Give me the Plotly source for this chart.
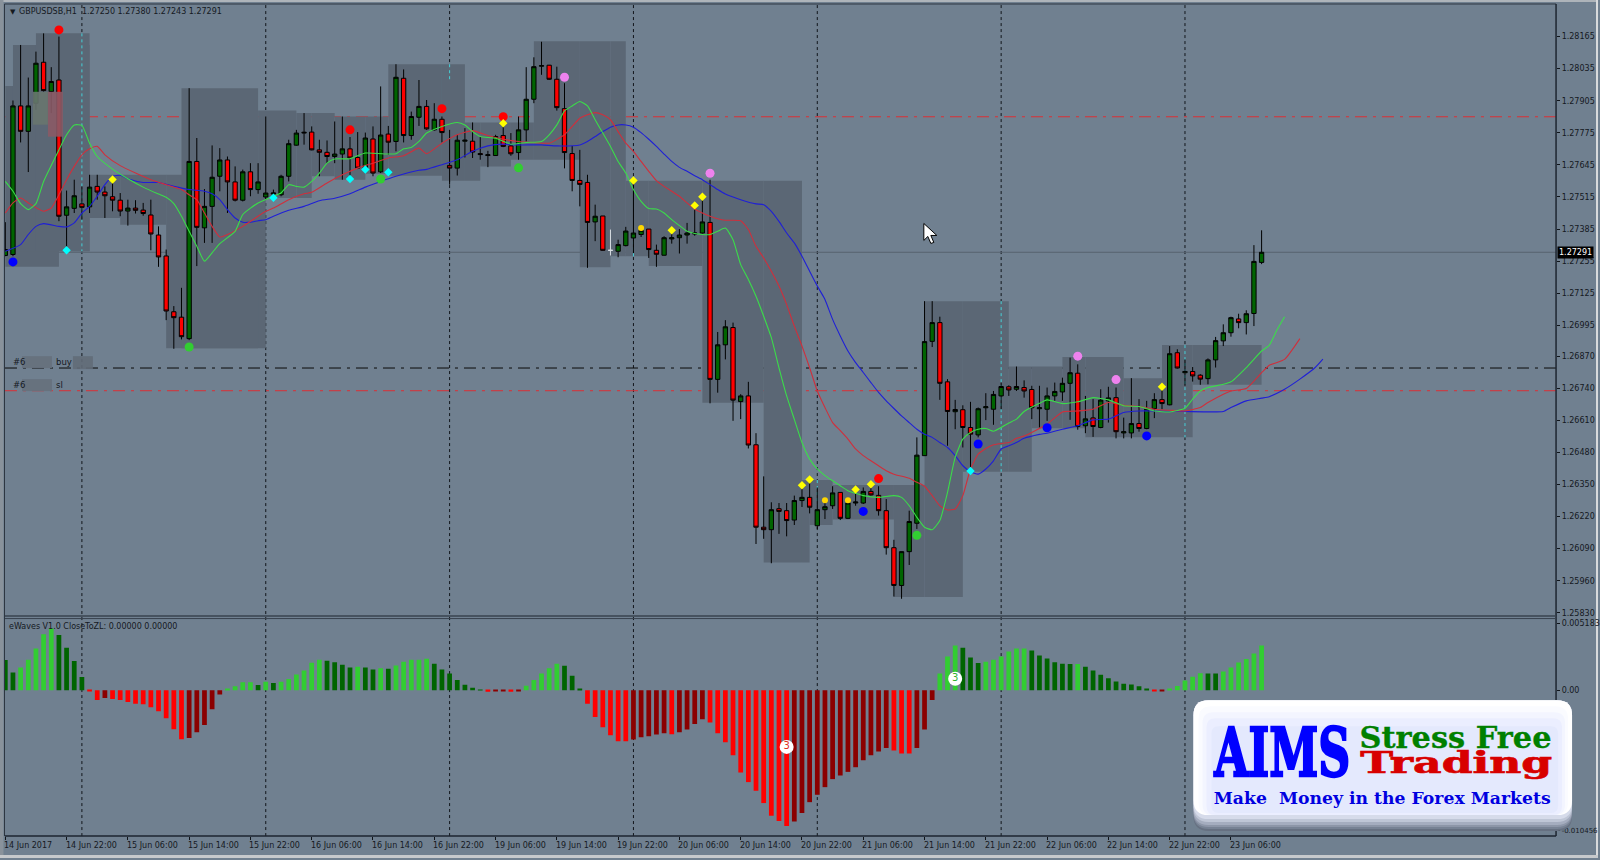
import plotly.graph_objects as go

W, H = 1600, 860
FONT = "DejaVu Sans"
TXT = "#15191f"

# ---------- price data, in 1/100000 of a point ----------
opens = [127278,127282,127884,127781,127895,128061,127942,127989,127441,127469,127487,127475,127558,127535,127516,127502,127458,127470,127462,127442,
127361,127276,127050,127028,126941,127659,127390,127477,127599,127665,127576,127502,127617,127545,127515,127527,127524,127599,127725,127774,
127778,127706,127696,127679,127689,127710,127675,127632,127750,127617,127770,127740,127996,127764,127838,127882,127787,127830,127643,127632,
127741,127741,127691,127683,127683,127764,127722,127695,127787,127911,128045,128049,127992,127873,127691,127582,127574,127414,127438,127299,
127295,127318,127349,127363,127385,127299,127279,127345,127350,127361,127365,127369,127412,126776,126916,126986,126686,126709,126511,126177,
126167,126252,126244,126206,126285,126298,126183,126248,126264,126318,126213,126275,126275,126322,126306,126244,126094,125941,126078,126193,
126467,126930,127006,126766,126645,126653,126581,126551,126661,126655,126709,126746,126736,126743,126735,126657,126655,126709,126725,126760,
126801,126588,126620,126581,126689,126702,126559,126559,126597,126577,126658,126694,126673,126884,126803,126808,126793,126779,126855,126932,
126965,127021,127006,127043,127250]
highs = [127413,127906,128131,127999,128104,128178,128041,128165,127541,127585,127558,127605,127605,127558,127578,127531,127504,127502,127491,127504,
127396,127302,127073,127147,127956,127754,127547,127724,127713,127679,127639,127626,127652,127652,127841,127545,127605,127747,127787,127855,
127801,127747,127744,127821,127841,127758,127778,127776,127801,127963,127803,128053,128032,127861,127989,127908,127895,127841,127787,127767,
127794,127817,127760,127702,127767,127801,127774,127841,128041,128081,128144,128050,128043,127976,127722,127706,127605,127484,127438,127383,
127342,127394,127585,127396,127385,127322,127356,127369,127385,127410,127477,127511,127585,126968,127016,127006,126716,126766,126558,126383,
126278,126275,126275,126305,126345,126372,126338,126285,126343,126318,126285,126338,126338,126338,126343,126291,126126,126078,126244,126541,
127093,127093,127030,126777,126693,126671,126685,126662,126720,126729,126763,126752,126828,126772,126750,126750,126743,126763,126783,126864,
126837,126709,126696,126736,126746,126743,126621,126781,126696,126689,126720,126736,126911,126898,126857,126826,126797,126861,126948,126999,
127030,127042,127056,127320,127380]
lows = [127275,127275,127736,127616,127868,127942,127855,127417,127302,127450,127423,127450,127504,127430,127457,127437,127399,127448,127439,127299,
127232,127016,126900,126938,126935,127235,127329,127329,127538,127450,127497,127497,127518,127528,127504,127504,127518,127578,127723,127727,
127704,127599,127652,127652,127585,127599,127628,127619,127599,127612,127686,127700,127736,127747,127803,127787,127784,127736,127565,127602,
127675,127673,127666,127636,127682,127717,127682,127666,127740,127895,128010,127989,127865,127631,127538,127477,127228,127336,127298,127278,
127271,127315,127288,127353,127268,127232,127278,127326,127286,127326,127358,127367,126679,126722,126857,126608,126615,126496,126109,126130,
126031,126150,126140,126186,126259,126233,126170,126210,126251,126206,126210,126264,126271,126305,126224,126066,125896,125887,126024,126170,
126467,126907,126693,126507,126574,126500,126406,126541,126611,126592,126655,126709,126729,126702,126615,126581,126608,126689,126689,126612,
126572,126558,126543,126578,126601,126537,126537,126537,126564,126574,126619,126655,126671,126820,126750,126767,126754,126756,126824,126911,
126949,126983,126958,126992,127243]
closes = [127302,127884,127781,127884,128057,127946,127983,127437,127475,127520,127473,127555,127535,127520,127502,127458,127470,127461,127448,127365,
127272,127053,127026,126949,127659,127392,127477,127595,127665,127576,127502,127617,127545,127576,127531,127531,127599,127731,127774,127777,
127706,127696,127679,127689,127710,127673,127632,127754,127612,127766,127737,128000,127764,127841,127882,127791,127830,127776,127632,127745,
127745,127697,127687,127686,127760,127720,127690,127787,127911,128043,128047,127992,127877,127695,127582,127566,127412,127437,127299,127299,
127322,127377,127369,127380,127302,127283,127350,127350,127361,127369,127369,127414,126776,126916,126989,126692,126709,126510,126177,126167,
126248,126241,126204,126285,126298,126258,126248,126260,126316,126213,126275,126279,126322,126308,126244,126094,125941,126078,126200,126469,
126929,127006,126760,126646,126654,126581,126554,126657,126665,126715,126747,126733,126747,126729,126661,126661,126709,126727,126760,126803,
126585,126616,126585,126692,126701,126564,126564,126597,126577,126655,126694,126678,126880,126822,126808,126790,126777,126855,126933,126965,
127026,127006,127042,127254,127291]
cursor_bar = 79   # the pale doji under the crosshair

# ---------- moving averages: bar index and value ----------
green_idx = [0,1,2,3,4,5,7,8,9,10,11,12,14,16,18,20,21,22,23,24,25,26,27,28,30,31,33,35,36,37,38,39,40,41,42,43,45,47,50,51,52,53,54,
55,57,59,60,61,62,64,66,68,70,71,72,73,74,75,76,77,78,79,80,81,82,83,84,85,86,87,88,89,90,91,92,93,94,95,96,97,98,99,100,101,102,103,
104,105,106,107,108,109,110,112,114,116,117,118,119,120,121,122,123,124,125,126,127,128,129,130,131,132,
133,135,136,138,140,142,144,146,148,150,152,154,155,156,157,159,160,162,164,165,166,167]
green_val = [127578,127538,127488,127464,127488,127578,127706,127767,127807,127805,127733,127679,127628,127589,127555,127527,127514,127488,127437,127376,127315,127255,127289,127326,127376,127444,127491,127518,127531,127565,127558,127555,127578,127612,127652,127669,127670,127693,127689,127690,127710,127716,127740,
127774,127801,127817,127807,127780,127760,127753,127729,127736,127740,127767,127807,127864,127884,127902,127884,127828,127774,127720,127659,127612,127545,127497,127468,127466,127450,127423,127399,127376,127367,127363,127363,127376,127389,127342,127241,127181,127113,127032,126945,126823,126709,126614,
126520,126453,126413,126386,126365,126345,126325,126305,126298,126305,126298,126264,126217,126177,126167,126204,126318,126460,126534,126561,126574,126577,126566,126581,126599,126615,
126646,126679,126693,126678,126685,126702,126693,126669,126666,126648,126644,126659,126696,126729,126743,126756,126766,126824,126891,126914,126976,127030]

red_idx = [0,1,2,3,5,6,7,8,9,10,11,12,13,15,17,19,21,23,24,25,26,27,28,29,31,34,35,37,39,40,42,44,46,48,50,52,54,
55,57,59,61,63,65,67,69,71,73,74,75,76,77,78,79,80,81,82,83,84,85,86,87,88,89,90,91,92,93,94,96,97,98,99,100,101,102,103,104,105,106,
107,108,109,110,111,112,113,114,115,116,118,119,120,121,122,123,124,125,126,127,128,129,130,131,132,
133,134,136,138,140,142,144,146,148,150,152,154,156,157,159,160,162,164,165,167,169]
red_val = [127450,127491,127511,127491,127457,127470,127524,127585,127639,127686,127710,127720,127686,127642,127612,127585,127565,127545,127524,127504,127450,127396,127353,127363,127396,127457,127470,127504,127528,127534,127572,127605,127632,127652,127673,127682,127713,
127690,127733,127767,127784,127764,127749,127740,127736,127733,127767,127801,127834,127848,127857,127848,127828,127780,127733,127700,127659,127619,127581,127558,127538,127518,127491,127466,127450,127437,127427,127421,127419,127383,127315,127268,127214,127154,127079,126992,126911,126823,126729,
126662,126601,126568,126534,126494,126467,126446,126426,126406,126392,126375,126359,126343,126305,126264,126247,126251,126305,126413,126473,126496,126511,126516,126520,126537,
126547,126561,126595,126644,126648,126655,126682,126671,126666,126655,126651,126648,126662,126682,126716,126729,126739,126803,126833,126857,126941]

blue_idx = [0,2,3,4,5,7,8,9,10,11,12,13,14,15,16,18,20,22,24,26,27,28,29,30,31,32,33,34,35,37,39,41,43,45,47,49,51,54,
55,57,59,61,63,65,67,70,72,75,76,77,78,79,80,81,82,83,84,85,86,87,88,89,90,91,92,93,94,96,98,99,100,101,102,103,104,105,106,
107,108,109,110,111,112,113,114,115,116,117,118,119,120,121,122,123,124,125,126,127,128,129,130,131,132,
133,135,136,138,140,142,144,146,148,150,154,159,160,162,164,165,167,169,171,172]
blue_val = [127295,127322,127363,127396,127407,127396,127394,127410,127450,127477,127518,127565,127599,127603,127589,127574,127574,127558,127545,127538,127528,127504,127464,127430,127413,127413,127419,127423,127437,127461,127477,127500,127510,127528,127555,127578,127599,127623,
127627,127646,127666,127700,127722,127729,127726,127726,127722,127726,127740,127760,127780,127798,127807,127807,127798,127776,127749,127720,127689,127659,127635,127619,127601,127585,127565,127545,127527,127504,127487,127484,127457,127416,127369,127329,127275,127214,127154,
127100,127019,126952,126891,126844,126804,126763,126723,126689,126658,126628,126601,126574,126554,126541,126520,126500,126467,126426,126402,126392,126413,126446,126494,126507,126520,
126537,126553,126558,126574,126588,126612,126615,126642,126648,126648,126646,126646,126662,126689,126700,126706,126736,126777,126824,126858]

# ---------- supply / demand zones: first bar, last bar, top, bottom ----------
zone_first = [0,1,4,11,15,21,23,33,38,40,43,47,50,57,60,62,66,69,75,79,81,82,84,91,99,104,105,108,116,120,125,131,134,138,141,146,151,155]
zone_last = [7,11,11,15,21,34,33,38,40,43,47,50,57,60,62,66,69,75,79,81,82,84,91,99,104,105,108,116,120,125,131,134,138,141,146,151,155,164]
zone_top = [127965,128131,128178,127605,127605,127605,127956,127865,127855,127855,127841,127841,128053,128053,127817,127817,127817,128146,128146,128146,127581,127581,127581,127581,127581,126368,126368,126348,126348,127093,127093,126828,126828,126867,126867,126781,126915,126915]
zone_bottom = [127232,127295,127295,127430,127403,126902,126902,127511,127511,127599,127585,127609,127601,127581,127581,127639,127666,127666,127230,127275,127275,127275,127235,126681,126034,126034,126186,126208,125894,125894,126402,126402,126578,126578,126541,126541,126541,126754]

# ---------- signal markers ----------
red_dot_idx = [7,45,57,65,114]
red_dot_val = [128192,127787,127873,127840,126374]
blue_dot_idx = [1,112,127,136,149]
blue_dot_val = [127252,126241,126514,126580,126547]
green_dot_idx = [24,49,67,119]
green_dot_val = [126907,127588,127633,126144]
pink_dot_idx = [73,92,140,145]
pink_dot_val = [128000,127611,126870,126775]
gold_dot_idx = [83,107,110]
gold_dot_val = [127389,126286,126286]
yellow_idx = [14,65,82,87,90,91,104,105,111,113,151]
yellow_val = [127586,127814,127582,127380,127481,127516,126347,126370,126330,126351,126746]
cyan_idx = [8,35,45,47,50,126]
cyan_val = [127299,127512,127588,127626,127615,126405]

# ---------- order lines ----------
tp_line = 127840
buy_line = 126822
sl_line = 126730

# ---------- eWaves histogram readings ----------
waves = [234,139,177,236,324,434,478,427,329,226,103,-5,-75,-59,-67,-75,-90,-103,-108,-131,-162,-216,-301,-378,-368,-324,-267,-146,-31,8,
31,62,62,41,67,57,67,87,123,154,213,236,229,218,198,177,182,177,162,170,168,193,221,236,236,244,206,162,131,80,
44,21,3,-10,-5,-4,-10,-5,36,80,131,170,206,190,113,13,-103,-206,-285,-347,-393,-393,-380,-362,-355,-342,-332,-339,-324,-303,
-260,-224,-249,-332,-401,-501,-635,-709,-776,-871,-969,-1010,-1049,-1013,-948,-864,-807,-748,-686,-658,-630,-594,-540,-501,-473,-445,-465,-488,-488,-445,
-303,-75,131,262,347,329,254,211,221,236,262,301,324,324,308,270,247,218,205,203,204,182,154,121,93,69,51,46,31,10,
-5,-4,8,33,77,105,132,131,130,146,177,216,242,285,347]
WAVE_UNIT = 0.966e-5   # one reading unit on the indicator's scale
wave_badge_idx = [102,124]
wave_badge_val = [-437,90]
wave_badge_text = ["3","3"]
wave_badge_color = ["#e03020","#30b030"]

# ---------- axis labels ----------
price_ticks = ["1.28165","1.28035","1.27905","1.27775","1.27645","1.27515","1.27385","1.27255","1.27125","1.26995",
               "1.26870","1.26740","1.26610","1.26480","1.26350","1.26220","1.26090","1.25960","1.25830"]
wave_ticks = [0.00499, 0.0, -0.010456]
wave_tick_text = ["0.005183", "0.00", "<span style='font-size:7px'>-0.010456</span>"]
time_tick_idx = [0,8,16,24,32,40,48,56,64,72,80,88,96,104,112,120,128,136,144,152,160]
time_tick_text = ["14 Jun 2017","14 Jun 22:00","15 Jun 06:00","15 Jun 14:00","15 Jun 22:00","16 Jun 06:00","16 Jun 14:00",
                  "16 Jun 22:00","19 Jun 06:00","19 Jun 14:00","19 Jun 22:00","20 Jun 06:00","20 Jun 14:00","20 Jun 22:00",
                  "21 Jun 06:00","21 Jun 14:00","21 Jun 22:00","22 Jun 06:00","22 Jun 14:00","22 Jun 22:00","23 Jun 06:00"]
grid_idx = [10,34,58,82,106,130,154]
# pale dotted stretches where the grid crosses a shaded zone: bar, top, bottom
xor_bar = [10,58,82,106,130,154]
xor_top = [128178,128053,127275,126368,127093,126915]
xor_bottom = [127295,127990,127369,126270,126402,126541]

SCALE = 1e5
p = lambda seq: [v / SCALE for v in seq]
w = lambda seq: [v * WAVE_UNIT for v in seq]
px = lambda x: x / W
py = lambda y: 1 - y / H

fig = go.Figure()
all_bars = list(range(len(opens)))
main = [i for i in all_bars if i != cursor_bar]

fig.add_trace(go.Candlestick(
    x=main, open=[opens[i]/SCALE for i in main], high=[highs[i]/SCALE for i in main],
    low=[lows[i]/SCALE for i in main], close=[closes[i]/SCALE for i in main],
    increasing=dict(fillcolor="#006400", line=dict(color="#000000", width=1)),
    decreasing=dict(fillcolor="#ff0000", line=dict(color="#000000", width=1)),
    hoverinfo="skip", xaxis="x", yaxis="y"))
fig.add_trace(go.Candlestick(
    x=[cursor_bar], open=[opens[cursor_bar]/SCALE], high=[highs[cursor_bar]/SCALE],
    low=[lows[cursor_bar]/SCALE], close=[closes[cursor_bar]/SCALE],
    increasing=dict(fillcolor="#d8dde2", line=dict(color="#d8dde2", width=1)),
    decreasing=dict(fillcolor="#d8dde2", line=dict(color="#d8dde2", width=1)),
    hoverinfo="skip", xaxis="x", yaxis="y"))

for xs, ys, col in [(blue_idx, blue_val, "#1f1fd6"), (red_idx, red_val, "#cf2f3c"), (green_idx, green_val, "#3bdc4a")]:
    fig.add_trace(go.Scatter(x=xs, y=p(ys), mode="lines", hoverinfo="skip",
                             line=dict(color=col, width=1.1, shape="spline", smoothing=0.5), xaxis="x", yaxis="y"))

for xs, ys, col, sym, size in [
    (red_dot_idx, red_dot_val, "#ff0000", "circle", 9),
    (blue_dot_idx, blue_dot_val, "#0000ff", "circle", 9),
    (green_dot_idx, green_dot_val, "#32cd32", "circle", 9),
    (pink_dot_idx, pink_dot_val, "#ee82ee", "circle", 9),
    (gold_dot_idx, gold_dot_val, "#ffd700", "circle", 6),
    (yellow_idx, yellow_val, "#ffff00", "diamond", 6.5),
    (cyan_idx, cyan_val, "#00ffff", "diamond", 6.5),
]:
    fig.add_trace(go.Scatter(x=xs, y=p(ys), mode="markers", hoverinfo="skip",
                             marker=dict(color=col, symbol=sym, size=size, line=dict(width=0)), xaxis="x", yaxis="y"))

colors = []
for i, v in enumerate(waves):
    prev = waves[i - 1] if i else v + 1
    if v >= 0:
        colors.append("#32cd32" if v >= prev else "#006400")
    else:
        colors.append("#ff0000" if v <= prev else "#8b0000")
fig.add_trace(go.Bar(x=all_bars, y=w(waves), marker=dict(color=colors, line=dict(width=0)), width=0.62,
                     hoverinfo="skip", xaxis="x2", yaxis="y2"))
fig.add_trace(go.Scatter(x=wave_badge_idx, y=w(wave_badge_val), mode="markers+text", text=wave_badge_text,
                         textposition="middle center", textfont=dict(family=FONT, size=10, color=wave_badge_color),
                         marker=dict(color="#ffffff", size=14, line=dict(width=0)), hoverinfo="skip", xaxis="x2", yaxis="y2"))

shapes = []
for a, b, t, bt in zip(zone_first, zone_last, zone_top, zone_bottom):
    shapes.append(dict(type="rect", xref="x", yref="y", x0=a, x1=b, y0=t / SCALE, y1=bt / SCALE,
                       fillcolor="#5b6775", line=dict(width=0), layer="below"))
for b in grid_idx:
    shapes.append(dict(type="line", xref="x", yref="paper", x0=b, x1=b, y0=py(838), y1=py(4),
                       line=dict(color="#11151b", width=1, dash="3px,3px"), layer="below"))
for b, t, bt in zip(xor_bar, xor_top, xor_bottom):
    shapes.append(dict(type="line", xref="x", yref="y", x0=b, x1=b, y0=t / SCALE, y1=bt / SCALE,
                       line=dict(color="#46cfd6", width=1, dash="3px,3px"), layer="below"))
# last price line and order lines
shapes.append(dict(type="line", xref="paper", yref="y", x0=px(5), x1=px(1558), y0=closes[-1]/SCALE, y1=closes[-1]/SCALE,
                   line=dict(color="#56626f", width=1), layer="below"))
for val, col in [(tp_line, "#dc2f35"), (buy_line, "#0a0a0a"), (sl_line, "#dc2f35")]:
    shapes.append(dict(type="line", xref="paper", yref="y", x0=px(5), x1=px(1558), y0=val/SCALE, y1=val/SCALE,
                       line=dict(color=col, width=1, dash="12px,6px,3px,6px"), layer="below"))
# screenshot edge strips
for x0, y0, x1, y1, col in [
    (0, 0, 1600, 2, "#aeb4ba"), (0, 0, 3.5, 860, "#89929b"), (1598, 0, 1600, 860, "#d8dadc"), (0, 857, 1600, 860, "#c6c9cc"),
]:
    shapes.append(dict(type="rect", xref="paper", yref="paper", x0=px(x0), x1=px(x1), y0=py(y0), y1=py(y1),
                       fillcolor=col, line=dict(width=0), layer="below"))
# frame
for x0, y0, x1, y1, col, lw in [
    (4.5, 4, 1558, 4, "#2d3540", 1), (4.5, 4, 4.5, 838, "#2d3540", 1), (1558, 4, 1558, 838, "#1d2530", 1.5),
    (5, 617.5, 1558, 617.5, "#39434f", 1.5), (5, 620, 1558, 620, "#39434f", 1), (5, 838, 1558, 838, "#1d2530", 1.5),
]:
    shapes.append(dict(type="line", xref="paper", yref="paper", x0=px(x0), x1=px(x1), y0=py(y0), y1=py(y1),
                       line=dict(color=col, width=lw), layer="above"))
# blurred patches hiding private text
for x0, y0, x1, y1, col, op in [
    (33, 92, 48, 125, "#68756f", 0.9), (48, 92, 63, 137, "#8a5a66", 0.9),
    (22, 357, 52, 369, "#66717d", 0.95), (73, 357, 93, 370, "#626c78", 0.9), (22, 380, 52, 392, "#66717d", 0.95),
]:
    shapes.append(dict(type="rect", xref="paper", yref="paper", x0=px(x0), x1=px(x1), y0=py(y0), y1=py(y1),
                       fillcolor=col, opacity=op, line=dict(width=0), layer="above"))
# mouse pointer
arrow = [(925, 224), (925, 241), (929, 237), (932, 244), (935, 243), (932, 236), (938, 236)]
shapes.append(dict(type="path", xref="paper", yref="paper",
                   path="M " + " L ".join(f"{px(x):.5f} {py(y):.5f}" for x, y in arrow) + " Z",
                   fillcolor="#ffffff", line=dict(color="#000000", width=1), layer="above"))

def rrect(x0, y0, x1, y1, r):
    return (f"M {px(x0+r):.5f} {py(y0):.5f} L {px(x1-r):.5f} {py(y0):.5f} "
            f"Q {px(x1):.5f} {py(y0):.5f} {px(x1):.5f} {py(y0+r):.5f} L {px(x1):.5f} {py(y1-r):.5f} "
            f"Q {px(x1):.5f} {py(y1):.5f} {px(x1-r):.5f} {py(y1):.5f} L {px(x0+r):.5f} {py(y1):.5f} "
            f"Q {px(x0):.5f} {py(y1):.5f} {px(x0):.5f} {py(y1-r):.5f} L {px(x0):.5f} {py(y0+r):.5f} "
            f"Q {px(x0):.5f} {py(y0):.5f} {px(x0+r):.5f} {py(y0):.5f} Z")

for x0, y0, x1, y1, r, col in [
    (1195, 702, 1574, 833, 15, "#667081"), (1195, 702, 1574, 831, 15, "#778294"), (1195, 702, 1574, 829, 15, "#8d96a8"),
    (1195, 702, 1574, 827, 15, "#a5adbf"), (1195, 702, 1574, 824, 15, "#bfc6d6"), (1195, 702, 1574, 821, 15, "#d6dbea"),
    (1195, 702, 1574, 817, 15, "#ffffff"), (1200, 708, 1570, 817, 13, "#fafbff"), (1204, 714, 1567, 817, 11, "#f3f5ff"),
    (1208, 720, 1564, 817, 9, "#ebeeff"), (1213, 728, 1560, 815, 7, "#e4e9fd"),
]:
    shapes.append(dict(type="path", xref="paper", yref="paper", path=rrect(x0, y0, x1, y1, r),
                       fillcolor=col, line=dict(width=0), layer="above"))

def note(text, x, y, size=8, color=TXT, anchor="left", family=FONT, **kw):
    return dict(text=text, xref="paper", yref="paper", x=px(x), y=py(y), xanchor=anchor, yanchor="middle",
                showarrow=False, font=dict(family=family, size=size, color=color), align="left", **kw)

SERIF = "DejaVu Serif"
annotations = [
    note("▼", 8, 12, size=7),
    note("GBPUSDSB,H1  1.27250 1.27380 1.27243 1.27291", 17, 12, size=8),
    note("eWaves V1.0 CloseToZL: 0.00000 0.00000", 7, 628, size=8),
    note("#6", 11, 363, size=8.5), note("buy", 54, 363, size=8.5),
    note("#6", 11, 386, size=8.5), note("sl", 54, 386, size=8.5),
    note("<b>AIMS</b>", 1283.5, 754, size=68, color="#0000ff", anchor="center", family=SERIF),
    note("<b>Stress Free</b>", 1457, 740, size=29, color="#008000", anchor="center", family=SERIF),
    note("<b>Trading</b>", 1458, 764, size=30, color="#d80000", anchor="center", family=SERIF),
    note("<b>Make  Money in the Forex Markets</b>", 1384.5, 800, size=16, color="#0000e0", anchor="center", family=SERIF),
    dict(text="1.27291", xref="paper", yref="y", x=px(1559), y=closes[-1]/SCALE, xanchor="left", yanchor="middle",
         showarrow=False, bgcolor="#000000", font=dict(family=FONT, size=8, color="#ffffff"), borderpad=1),
]
for b, t in zip(time_tick_idx, time_tick_text):
    annotations.append(dict(text=t, xref="x2", yref="paper", x=b, y=py(847), xanchor="left", yanchor="middle",
                            showarrow=False, xshift=-3, font=dict(family=FONT, size=8, color=TXT)))

x_range = [-0.04, 202.44]
fig.update_layout(
    width=W, height=H, margin=dict(l=0, r=0, t=0, b=0), showlegend=False, barmode="overlay",
    boxgap=0.25, boxgroupgap=0.25,
    paper_bgcolor="#708090", plot_bgcolor="#708090", shapes=shapes, annotations=annotations,
    xaxis=dict(domain=[px(5), px(1558)], range=x_range, showgrid=False, zeroline=False, showticklabels=False,
               ticks="", rangeslider=dict(visible=False), anchor="y"),
    yaxis=dict(domain=[py(617), py(4)], range=[1.25819, 1.28297], side="right", showgrid=False, zeroline=False, anchor="x",
               tickmode="array", tickvals=[float(t) for t in price_ticks], ticktext=price_ticks,
               ticks="outside", ticklen=3, tickcolor="#10151b", tickfont=dict(family=FONT, size=8, color=TXT)),
    xaxis2=dict(domain=[px(5), px(1558)], range=x_range, showgrid=False, zeroline=False, showticklabels=False,
                tickmode="array", tickvals=time_tick_idx, ticks="outside", ticklen=3, tickcolor="#10151b", anchor="y2"),
    yaxis2=dict(domain=[py(838), py(620)], range=[-0.010877, 0.005361], side="right", showgrid=False, zeroline=False, anchor="x2",
                tickmode="array", tickvals=wave_ticks, ticktext=wave_tick_text,
                ticks="outside", ticklen=3, tickcolor="#10151b", tickfont=dict(family=FONT, size=8, color=TXT)),
)
fit_logo = """
var de=document.documentElement, bd=document.body, gd=document.querySelector('.plotly-graph-div');
de.style.margin=bd.style.margin='0'; de.style.overflow=bd.style.overflow='hidden'; bd.style.background='#708090';
de.style.width=bd.style.width='1600px'; de.style.height=bd.style.height='860px';
function fitLogo(){
  var m={'AIMS':[137,2.4],'Stre':[192,0.3],'Trad':[192,0.7],'Make':[337,0]};
  document.querySelectorAll('.annotation-text').forEach(function(t){
    var k=m[t.textContent.slice(0,4)]; if(!k) return;
    var b=t.getBBox(), s=k[0]/b.width, c=b.x+b.width/2;
    t.setAttribute('transform','translate('+(c*(1-s))+',0) scale('+s+',1)');
    if(k[1]){ t.style.stroke=getComputedStyle(t).fill; t.style.strokeWidth=k[1]; }
  });
}
fitLogo(); setTimeout(fitLogo,150);
"""
fig.write_html("out.html", config=dict(displayModeBar=False), post_script=fit_logo)
